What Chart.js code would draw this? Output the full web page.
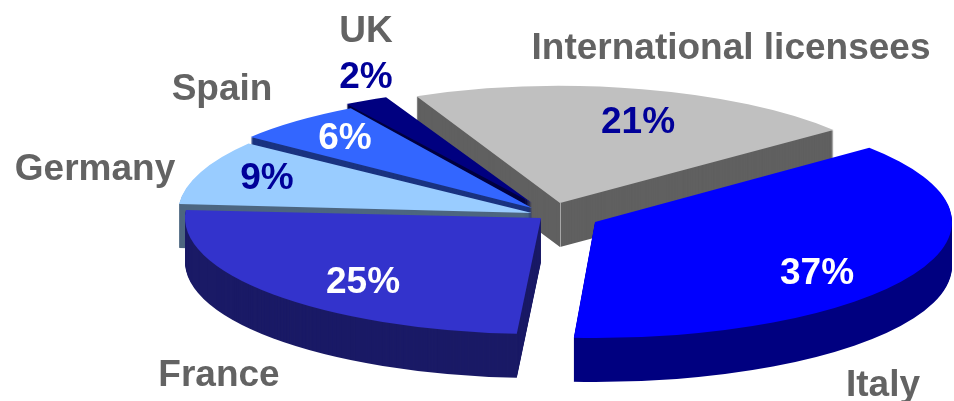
<!DOCTYPE html>
<html>
<head>
<meta charset="utf-8">
<style>
  html, body { margin: 0; background: #fff; }
  canvas { display: block; }
</style>
<script src="https://cdn.jsdelivr.net/npm/chart.js@4/dist/chart.umd.min.js"></script>
</head>
<body>
<canvas id="pie" width="954" height="401"></canvas>
<script>
const categories = ['Italy', 'France', 'Germany', 'Spain', 'UK', 'International licensees'];
const shares = [37, 25, 9, 6, 2, 21];

const topColors = ['#0000ff', '#3333cc', '#99ccff', '#3366ff', '#000080', '#c0c0c0'];
const wallColors = ['#000080', '#1a1a66', '#4d6680', '#1a3380', '#000040', '#606060'];

const DEPTH = 44;

// each slice once pulled out of the pie: tip position, on-screen radii,
// and a small turn (degrees) for the foreshortening toward the back
const slices = [
  { x: 595, y: 222, rx: 357, ry: 116, turn: 0 },
  { x: 541, y: 218, rx: 356, ry: 116, turn: 0.5 },
  { x: 532, y: 213, rx: 354, ry: 116, turn: 1 },
  { x: 532, y: 208, rx: 356, ry: 116, turn: 2 },
  { x: 532, y: 203, rx: 356, ry: 116, turn: 1.2 },
  { x: 560, y: 203, rx: 350, ry: 117, turn: 1.2, seam: true }
];
// back slices first so the front ones paint over their walls
const drawOrder = [5, 4, 3, 2, 1, 0];

const catLabels = [
  { x: 883, y: 386 }, { x: 219, y: 376 }, { x: 95, y: 170 },
  { x: 222, y: 90 }, { x: 366, y: 32 }, { x: 731, y: 49 }
];
const pctLabels = [
  { x: 817, y: 274, color: '#fff' }, { x: 363, y: 283, color: '#fff' }, { x: 267, y: 179, color: '#000099' },
  { x: 345, y: 139, color: '#fff' }, { x: 366, y: 78, color: '#000099' }, { x: 638, y: 123, color: '#000099' }
];

const tiltedPie = {
  id: 'tiltedPie',
  beforeDatasetsDraw(chart) {
    const ctx = chart.ctx;
    const arcs = chart.getDatasetMeta(0).data;

    const place = (arc, s, drop) => {
      ctx.save();
      ctx.translate(s.x, s.y + drop);
      ctx.scale(s.rx / arc.outerRadius, s.ry / arc.outerRadius);
      ctx.rotate(s.turn * Math.PI / 180);
      ctx.translate(-arc.x, -arc.y);
      arc.draw(ctx);
      ctx.restore();
    };

    drawOrder.forEach(i => {
      const arc = arcs[i];
      const s = slices[i];
      const topOptions = arc.options;
      arc.options = Object.create(topOptions, { backgroundColor: { value: wallColors[i] } });
      for (let d = DEPTH; d > 0; d--) place(arc, s, d);
      arc.options = topOptions;

      // pale seam down the inner corner of the wall
      if (s.seam) {
        ctx.strokeStyle = 'rgba(255,255,255,0.45)';
        ctx.lineWidth = 1;
        ctx.beginPath();
        ctx.moveTo(s.x + 0.5, s.y);
        ctx.lineTo(s.x + 0.5, s.y + DEPTH);
        ctx.stroke();
      }

      place(arc, s, 0);
    });
    return false;
  },
  afterDraw(chart) {
    const ctx = chart.ctx;
    ctx.save();
    ctx.font = 'bold 37px "Liberation Sans", Arial, sans-serif';
    ctx.textAlign = 'center';
    ctx.textBaseline = 'middle';
    categories.forEach((name, i) => {
      ctx.fillStyle = '#636363';
      ctx.fillText(name, catLabels[i].x, catLabels[i].y);
      ctx.fillStyle = pctLabels[i].color;
      ctx.fillText(shares[i] + '%', pctLabels[i].x, pctLabels[i].y);
    });
    ctx.restore();
  }
};

new Chart(document.getElementById('pie'), {
  type: 'pie',
  data: {
    labels: categories,
    datasets: [{ data: shares, backgroundColor: topColors, borderWidth: 0 }]
  },
  options: {
    responsive: false,
    animation: false,
    rotation: 50.2,
    plugins: { legend: { display: false }, tooltip: { enabled: false } }
  },
  plugins: [tiltedPie]
});
</script>
</body>
</html>
